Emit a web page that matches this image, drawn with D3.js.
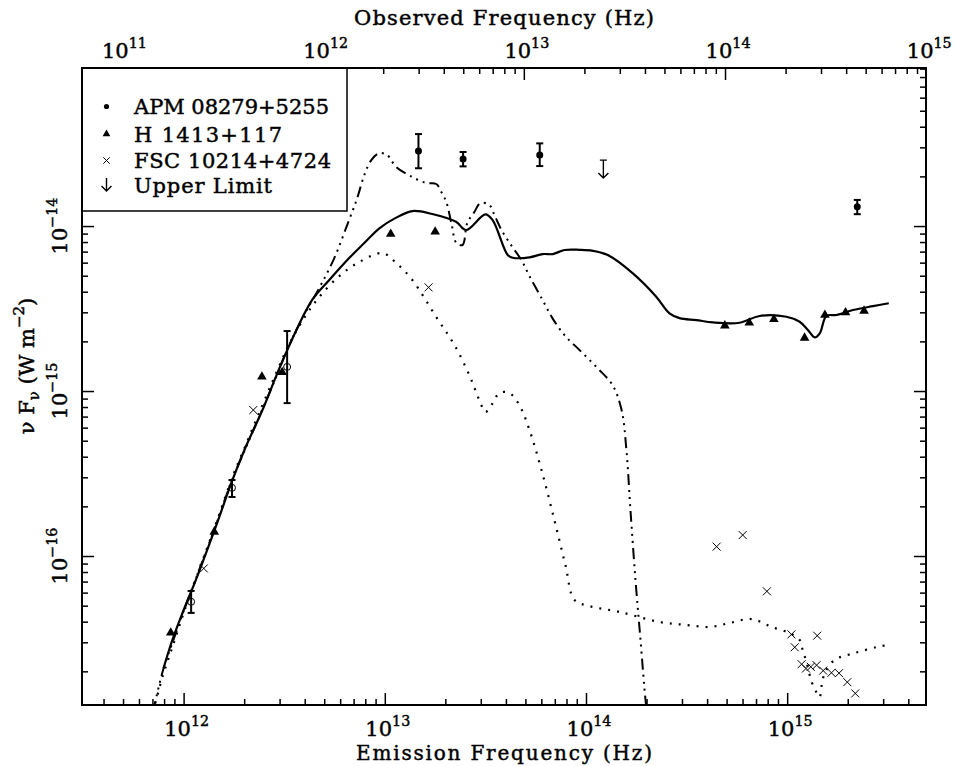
<!DOCTYPE html>
<html>
<head>
<meta charset="utf-8">
<script src="https://cdn.jsdelivr.net/npm/d3@7"></script>
<style>
body { margin: 0; background: #fff; }
text { font-family: "DejaVu Serif", "Liberation Serif", serif; fill: #000; stroke: #000; stroke-width: 0.45px; }
</style>
</head>
<body>
<script>
// ---- data (log10 of frequency in Hz, log10 of nuFnu in W m^-2 for the model curves) ----
var zAPM = 3.91;   // observed = emission / (1+z)

var apmPoints = [   // [nu, flux, errLow, errHigh]
    [1.47e13, 2.85e-14, 2.24e-14, 3.61e-14],
    [2.45e13, 2.55e-14, 2.30e-14, 2.81e-14],
    [5.89e13, 2.70e-14, 2.31e-14, 3.17e-14],
    [2.23e15, 1.31e-14, 1.18e-14, 1.44e-14]
];
var openPoints = [
    [3.27e12, 1.40e-15, 8.45e-16, 2.31e-15],
    [1.74e12, 2.59e-16, 2.28e-16, 2.89e-16],
    [1.09e12, 5.28e-17, 4.52e-17, 6.14e-17]
];
var upperLimits = [[1.22e14, 2.51e-14]];

var hPoints = [
    [8.63e11, 3.43e-17], [1.42e12, 1.40e-16], [2.45e12, 1.22e-15], [3.09e12, 1.30e-15],
    [1.07e13, 8.94e-15], [1.78e13, 9.24e-15], [4.90e14, 2.49e-15], [6.48e14, 2.59e-15],
    [8.59e14, 2.72e-15], [1.22e15, 2.10e-15], [1.54e15, 2.89e-15], [1.95e15, 2.99e-15],
    [2.41e15, 3.06e-15]
];

var fscPoints = [
    [1.26e12, 8.41e-17], [2.22e12, 7.67e-16], [1.65e13, 4.25e-15],
    [4.46e14, 1.14e-16], [6.01e14, 1.34e-16], [7.93e14, 6.11e-17],
    [1.05e15, 3.35e-17], [1.41e15, 3.29e-17], [1.09e15, 2.80e-17],
    [1.18e15, 2.21e-17], [1.24e15, 2.08e-17], [1.31e15, 2.13e-17],
    [1.40e15, 2.18e-17], [1.51e15, 2.02e-17], [1.66e15, 1.96e-17],
    [1.81e15, 1.95e-17], [1.99e15, 1.72e-17], [2.18e15, 1.47e-17]
];

var solidCurve = [
    [11.900,-16.681],[11.944,-16.509],[11.994,-16.347],[12.061,-16.145],[12.160,-15.822],
    [12.243,-15.539],[12.309,-15.338],[12.392,-15.115],[12.459,-14.913],[12.515,-14.752],
    [12.639,-14.448],[12.724,-14.327],[12.823,-14.194],[12.898,-14.103],[12.973,-14.014],
    [13.052,-13.952],[13.138,-13.909],[13.236,-13.927],[13.354,-13.974],[13.404,-14.024],
    [13.500,-13.929],[13.536,-13.964],[13.611,-14.176],[13.636,-14.192],[13.719,-14.190],
    [13.785,-14.170],[13.835,-14.170],[13.893,-14.145],[13.968,-14.144],[14.034,-14.150],
    [14.108,-14.176],[14.233,-14.287],[14.349,-14.428],[14.415,-14.529],[14.465,-14.558],
    [14.548,-14.570],[14.631,-14.584],[14.764,-14.586],[14.863,-14.545],[14.996,-14.550],
    [15.062,-14.580],[15.103,-14.630],[15.137,-14.675],[15.162,-14.650],[15.195,-14.545],
    [15.245,-14.539],[15.327,-14.509],[15.427,-14.485],[15.505,-14.468]
];

var dashDotCurve = [
    [11.848,-16.945],[11.898,-16.691],[11.953,-16.497],[12.002,-16.327],[12.077,-16.085],
    [12.157,-15.824],[12.241,-15.539],[12.311,-15.339],[12.390,-15.115],[12.460,-14.915],
    [12.525,-14.721],[12.599,-14.539],[12.674,-14.376],[12.749,-14.194],[12.813,-13.994],
    [12.863,-13.830],[12.898,-13.691],[12.933,-13.600],[12.973,-13.558],[13.012,-13.570],
    [13.057,-13.642],[13.137,-13.703],[13.206,-13.739],[13.256,-13.745],[13.281,-13.794],
    [13.306,-13.855],[13.331,-13.982],[13.356,-14.103],[13.386,-14.115],[13.410,-13.982],
    [13.445,-13.915],[13.475,-13.861],[13.520,-13.873],[13.545,-13.933],[13.580,-14.024],
    [13.634,-14.127],[13.679,-14.206],[13.719,-14.303],[13.784,-14.448],[13.833,-14.558],
    [13.893,-14.661],[13.968,-14.752],[14.057,-14.861],[14.132,-14.964],[14.177,-15.115],
    [14.201,-15.358],[14.221,-15.721],[14.246,-16.145],[14.271,-16.509],[14.296,-16.873],
    [14.306,-16.964]
];

var dottedCurve = [
    [11.848,-16.945],[11.898,-16.721],[11.953,-16.521],[12.002,-16.339],[12.077,-16.085],
    [12.157,-15.818],[12.241,-15.527],[12.311,-15.321],[12.390,-15.091],[12.460,-14.891],
    [12.525,-14.715],[12.599,-14.558],[12.674,-14.430],[12.774,-14.303],[12.873,-14.218],
    [12.988,-14.164],[13.057,-14.224],[13.137,-14.327],[13.256,-14.552],[13.346,-14.721],
    [13.420,-14.903],[13.470,-15.055],[13.500,-15.127],[13.530,-15.085],[13.570,-15.012],
    [13.619,-15.012],[13.669,-15.085],[13.719,-15.236],[13.779,-15.479],[13.843,-15.782],
    [13.898,-16.055],[13.943,-16.267],[14.017,-16.303],[14.167,-16.339],[14.366,-16.400],
    [14.500,-16.418],[14.614,-16.430],[14.714,-16.406],[14.823,-16.382],[14.923,-16.430],
    [15.012,-16.467],[15.062,-16.509],[15.077,-16.570],[15.097,-16.648],[15.122,-16.764],
    [15.147,-16.830],[15.161,-16.855],[15.172,-16.782],[15.187,-16.709],[15.236,-16.630],
    [15.336,-16.588],[15.445,-16.552],[15.500,-16.539]
];

var xTickExps = [12, 13, 14, 15];
var topTickExps = [11, 12, 13, 14, 15];
var yTickExps = [-14, -15, -16];
var legendNames = ["APM 08279+5255", "H 1413+117", "FSC 10214+4724", "Upper Limit"];

// ---- layout ----
var width = 954, height = 766,
    x0 = 82, x1 = 926, y0 = 68, y1 = 705;

var x = d3.scaleLog().domain([Math.pow(10, 11.495), Math.pow(10, 15.69)]).range([x0, x1]);
var xTop = d3.scaleLog().domain(x.domain().map(function (d) { return d / (1 + zAPM); })).range([x0, x1]);
var y = d3.scaleLog().domain([Math.pow(10, -16.903), Math.pow(10, -13.042)]).range([y1, y0]);

var svg = d3.select("body").append("svg")
    .attr("width", width)
    .attr("height", height);

svg.append("defs").append("clipPath").attr("id", "plot")
    .append("rect").attr("x", x0).attr("y", y0)
    .attr("width", x1 - x0).attr("height", y1 - y0);

function logTicks(scale) {
    var d = scale.domain(), lo = Math.floor(Math.log10(d[0])), hi = Math.ceil(Math.log10(d[1]));
    var major = [], minor = [];
    for (var e = lo; e <= hi; e++) {
        var v = Math.pow(10, e);
        if (v >= d[0] && v <= d[1]) major.push(v);
        for (var m = 2; m <= 9; m++) {
            var w = m * v;
            if (w >= d[0] && w <= d[1]) minor.push(w);
        }
    }
    return {major: major, minor: minor};
}

// ---- axes (ticks inward) ----
function drawAxis(axisFn, scale, transform) {
    var t = logTicks(scale);
    var g = svg.append("g").attr("transform", transform);
    g.call(axisFn(scale).tickValues(t.minor).tickSize(-6).tickFormat(""));
    g.select(".domain").remove();
    var g2 = svg.append("g").attr("transform", transform);
    g2.call(axisFn(scale).tickValues(t.major).tickSize(-12).tickFormat(""));
    g2.select(".domain").remove();
    svg.selectAll(".tick line").attr("stroke", "#000").attr("stroke-width", 1.5);
}
drawAxis(d3.axisBottom, x, "translate(0," + y1 + ")");
drawAxis(d3.axisTop, xTop, "translate(0," + y0 + ")");
drawAxis(d3.axisLeft, y, "translate(" + x0 + ",0)");
drawAxis(d3.axisRight, y, "translate(" + x1 + ",0)");

// ---- curves ----
var line = d3.line()
    .x(function (d) { return x(Math.pow(10, d[0])); })
    .y(function (d) { return y(Math.pow(10, d[1])); })
    .curve(d3.curveCatmullRom);

var curves = svg.append("g").attr("clip-path", "url(#plot)").attr("fill", "none").attr("stroke", "#000");
curves.append("path").datum(dottedCurve).attr("d", line)
    .attr("stroke-width", 2.2).attr("stroke-dasharray", "2,7");
curves.append("path").datum(dashDotCurve).attr("d", line)
    .attr("stroke-width", 2).attr("stroke-dasharray", "11,5,2,5,2,5,2,5");
curves.append("path").datum(solidCurve).attr("d", line)
    .attr("stroke-width", 2.2);

// ---- data points ----
var pts = svg.append("g").attr("stroke", "#000");

function errBars(data) {
    var g = pts.append("g").attr("stroke-width", 2);
    g.selectAll(".v").data(data).enter().append("line")
        .attr("x1", function (d) { return x(d[0]); }).attr("x2", function (d) { return x(d[0]); })
        .attr("y1", function (d) { return y(d[2]); }).attr("y2", function (d) { return y(d[3]); });
    [2, 3].forEach(function (k) {
        g.selectAll(".c" + k).data(data).enter().append("line")
            .attr("x1", function (d) { return x(d[0]) - 3.5; }).attr("x2", function (d) { return x(d[0]) + 3.5; })
            .attr("y1", function (d) { return y(d[k]); }).attr("y2", function (d) { return y(d[k]); });
    });
}
errBars(apmPoints);
errBars(openPoints);

pts.selectAll(".apm").data(apmPoints).enter().append("circle")
    .attr("cx", function (d) { return x(d[0]); }).attr("cy", function (d) { return y(d[1]); })
    .attr("r", 3.5).attr("fill", "#000").attr("stroke", "none");

pts.selectAll(".open").data(openPoints).enter().append("circle")
    .attr("cx", function (d) { return x(d[0]); }).attr("cy", function (d) { return y(d[1]); })
    .attr("r", 3.5).attr("fill", "none").attr("stroke-width", 1);

var tri = d3.symbol().type(d3.symbolTriangle).size(40);
pts.selectAll(".h").data(hPoints).enter().append("path")
    .attr("d", tri)
    .attr("transform", function (d) { return "translate(" + x(d[0]) + "," + y(d[1]) + ")"; })
    .attr("fill", "#000").attr("stroke", "none");

function cross(g, cx, cy, s) {
    g.append("path").attr("d", "M" + (cx - s) + "," + (cy - s) + "L" + (cx + s) + "," + (cy + s) +
        "M" + (cx - s) + "," + (cy + s) + "L" + (cx + s) + "," + (cy - s))
        .attr("stroke", "#000").attr("stroke-width", 1).attr("fill", "none");
}
var crossG = pts.append("g");
fscPoints.forEach(function (d) { cross(crossG, x(d[0]), y(d[1]), 4); });

function arrow(g, cx, cy, len, bar) {
    var p = "M" + cx + "," + cy + "L" + cx + "," + (cy + len) +
        "M" + (cx - 5) + "," + (cy + len - 5) + "L" + cx + "," + (cy + len) + "L" + (cx + 5) + "," + (cy + len - 5);
    if (bar) p += "M" + (cx - 3.5) + "," + cy + "L" + (cx + 3.5) + "," + cy;
    g.append("path").attr("d", p).attr("fill", "none").attr("stroke", "#000").attr("stroke-width", 1.4);
}
upperLimits.forEach(function (d) { arrow(pts, x(d[0]), y(d[1]), 18, true); });

// ---- tick labels ----
function supLabel(g, base, exp, size) {
    g.append("tspan").text(base);
    g.append("tspan").attr("dy", -10).attr("font-size", size * 0.68).text(exp < 0 ? "\u2212" + (-exp) : exp);
}
xTickExps.forEach(function (e) {
    var t = svg.append("text").attr("x", x(Math.pow(10, e)) + 3).attr("y", 736)
        .attr("text-anchor", "middle").attr("font-size", 21);
    supLabel(t, "10", e, 21);
});
topTickExps.forEach(function (e) {
    var t = svg.append("text").attr("x", xTop(Math.pow(10, e)) + 3).attr("y", 58)
        .attr("text-anchor", "middle").attr("font-size", 21);
    supLabel(t, "10", e, 21);
});
yTickExps.forEach(function (e) {
    var t = svg.append("text").attr("text-anchor", "middle").attr("font-size", 21)
        .attr("transform", "translate(67," + y(Math.pow(10, e)) + ") rotate(-90)");
    supLabel(t, "10", e, 21);
});

// ---- axis titles ----
svg.append("text").attr("x", (x0 + x1) / 2).attr("y", 760).attr("text-anchor", "middle")
    .attr("font-size", 20).attr("textLength", 296).text("Emission Frequency (Hz)");
svg.append("text").attr("x", (x0 + x1) / 2).attr("y", 25).attr("text-anchor", "middle")
    .attr("font-size", 21).attr("textLength", 300).text("Observed Frequency (Hz)");

var yl = svg.append("text").attr("text-anchor", "middle").attr("font-size", 21)
    .attr("transform", "translate(34,366) rotate(-90)");
yl.append("tspan").text("\u03bd F");
yl.append("tspan").attr("dy", 5).attr("font-size", 15).text("\u03bd");
yl.append("tspan").attr("dy", -5).text(" (W m");
yl.append("tspan").attr("dy", -10).attr("font-size", 15).text("\u22122");
yl.append("tspan").attr("dy", 10).text(")");

// ---- legend ----
var leg = svg.append("g");
leg.append("rect").attr("x", x0).attr("y", y0).attr("width", 347 - x0).attr("height", 211 - y0)
    .attr("fill", "#fff").attr("stroke", "#000").attr("stroke-width", 1.5);
var rowY = [106.5, 134, 160.5, 185];
legendNames.forEach(function (name, i) {
    leg.append("text").attr("x", 134).attr("y", rowY[i] + 7.5).attr("font-size", 21)
        .attr("textLength", [195, 148, 197, 138][i]).text(name);
});
leg.append("circle").attr("cx", 106.5).attr("cy", rowY[0]).attr("r", 2.6).attr("fill", "#000");
leg.append("path").attr("d", d3.symbol().type(d3.symbolTriangle).size(26))
    .attr("transform", "translate(106.5," + rowY[1] + ")").attr("fill", "#000");
cross(leg, 106.5, rowY[2], 3.2);
arrow(leg, 106.5, rowY[3] - 7, 13, false);

// ---- frame ----
svg.append("rect").attr("x", x0).attr("y", y0).attr("width", x1 - x0).attr("height", y1 - y0)
    .attr("fill", "none").attr("stroke", "#000").attr("stroke-width", 2);
</script>
</body>
</html>
